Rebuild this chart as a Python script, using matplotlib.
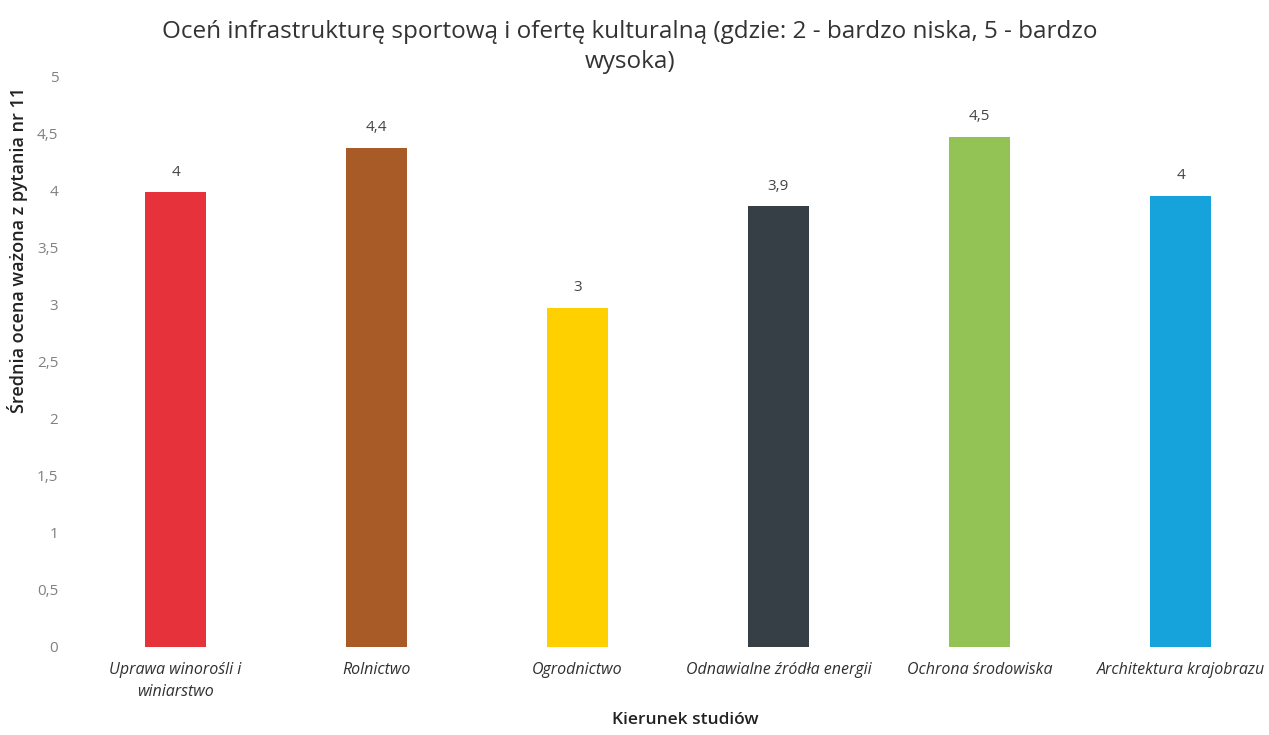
import matplotlib.pyplot as plt

plt.rcParams['font.family'] = ['Open Sans', 'DejaVu Sans']

categories = ["Uprawa winorośli i\nwiniarstwo", "Rolnictwo", "Ogrodnictwo",
              "Odnawialne źródła energii", "Ochrona środowiska", "Architektura krajobrazu"]
values = [3.98, 4.37, 2.97, 3.86, 4.47, 3.95]
colors = ["#E5323B", "#A95B27", "#FFD000", "#363F45", "#93C355", "#16A2DA"]
yticks = [0, 0.5, 1, 1.5, 2, 2.5, 3, 3.5, 4, 4.5, 5]


def fmt(v):
    r = round(v, 1)
    if r == int(r):
        return str(int(r))
    return str(r).replace(".", ",")


fig = plt.figure(figsize=(12.69, 7.35), dpi=100)
ax = fig.add_axes([75 / 1269, 88 / 735, 1194 / 1269, 571 / 735])

x = list(range(len(categories)))
bars = ax.bar(x, values, width=0.30, color=colors)
for b, v in zip(bars, values):
    ax.text(b.get_x() + b.get_width() / 2, v + 0.11, fmt(v), ha="center", va="bottom",
            fontsize=11, color="#444444")

ax.set_xlim(-0.5, 5.44)
ax.set_ylim(0, 5)
ax.set_yticks(yticks)
ax.set_yticklabels([fmt(t) for t in yticks], color="#808080", fontsize=11)
ax.set_xticks(x)
ax.set_xticklabels(categories, fontsize=11.5, style="italic", color="#303030",
                   linespacing=1.5)
ax.tick_params(axis="both", length=0)
ax.tick_params(axis="y", pad=12)
ax.tick_params(axis="x", pad=11)
for s in ax.spines.values():
    s.set_visible(False)

fig.text(630 / 1269, 1 - 47 / 735,
         "Oceń infrastrukturę sportową i ofertę kulturalną (gdzie: 2 - bardzo niska, 5 - bardzo\nwysoka)",
         ha="center", va="center", fontsize=17.5, color="#333333", linespacing=1.3)
fig.text(18 / 1269, 1 - 250 / 735, "Średnia ocena ważona z pytania nr 11", rotation=90,
         ha="center", va="center", fontsize=13, fontweight="semibold", color="#222222")
fig.text(685 / 1269, 1 - 720 / 735, "Kierunek studiów", ha="center", va="center",
         fontsize=12.5, fontweight="semibold", color="#222222")

fig.savefig("out.png", dpi=100)
